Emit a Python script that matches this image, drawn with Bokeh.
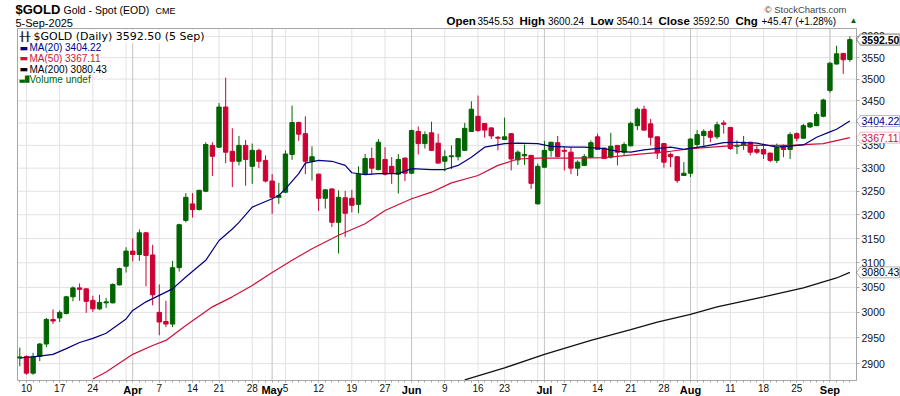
import math
from bokeh.plotting import figure
from bokeh.models import (Range1d, FixedTicker, NumeralTickFormatter, Label, LabelSet,
                          ColumnDataSource, PolyAnnotation)
from bokeh.core.properties import value
from bokeh.embed import file_html
from bokeh.resources import INLINE

# ---------------- data ----------------
opens = [2911, 2914, 2882, 2914, 2938, 2986, 2989, 2998, 3031, 3049,
         3047, 3024, 3007, 3019, 3019, 3055, 3093, 3124, 3117, 3162,
         3116, 3000, 2982, 2977, 3090, 3188, 3223, 3211, 3250, 3350,
         3346, 3436, 3337, 3315, 3350, 3304, 3339, 3317, 3272, 3237,
         3248, 3330, 3401, 3376, 3315, 3287, 3235, 3255, 3184, 3236,
         3235, 3222, 3287, 3321, 3297, 3319, 3304, 3287, 3322, 3289,
         3381, 3354, 3378, 3355, 3315, 3325, 3325, 3339, 3381, 3415,
         3399, 3389, 3368, 3363, 3376, 3318, 3327, 3328, 3223, 3302,
         3339, 3356, 3339, 3335, 3300, 3306, 3324, 3369, 3344, 3324,
         3350, 3335, 3349, 3394, 3431, 3398, 3369, 3354, 3330, 3325,
         3284, 3289, 3352, 3372, 3381, 3369, 3400, 3390, 3348, 3350,
         3357, 3341, 3341, 3333, 3317, 3350, 3341, 3376, 3366, 3391,
         3394, 3415, 3474, 3535, 3560, 3545.53]
highs = [2931, 2916, 2921, 2940, 2989, 3006, 3004, 3033, 3052, 3058,
         3048, 3033, 3035, 3029, 3058, 3090, 3132, 3150, 3169, 3164,
         3137, 3056, 3023, 3104, 3181, 3246, 3246, 3253, 3357, 3357,
         3445, 3503, 3388, 3371, 3362, 3354, 3343, 3328, 3287, 3268,
         3339, 3439, 3403, 3415, 3348, 3288, 3254, 3256, 3252, 3251,
         3253, 3304, 3331, 3345, 3364, 3346, 3324, 3331, 3323, 3385,
         3392, 3381, 3403, 3376, 3339, 3350, 3366, 3400, 3449, 3462,
         3400, 3390, 3371, 3412, 3377, 3339, 3352, 3329, 3310, 3360,
         3358, 3371, 3346, 3346, 3317, 3331, 3361, 3376, 3345, 3378,
         3351, 3357, 3403, 3435, 3439, 3409, 3370, 3355, 3334, 3326,
         3313, 3366, 3384, 3386, 3385, 3403, 3406, 3391, 3361, 3371,
         3358, 3350, 3354, 3334, 3354, 3352, 3379, 3379, 3398, 3401,
         3425, 3455, 3539, 3578, 3561, 3600.24]
lows = [2895, 2879, 2879, 2905, 2932, 2977, 2981, 2996, 3022, 3023,
        2999, 3001, 3005, 3009, 3018, 3054, 3080, 3103, 3104, 3052,
        3014, 2955, 2971, 2971, 3082, 3184, 3194, 3209, 3248, 3283,
        3344, 3311, 3259, 3306, 3262, 3266, 3300, 3269, 3202, 3223,
        3246, 3318, 3360, 3287, 3273, 3208, 3213, 3174, 3119, 3153,
        3205, 3203, 3285, 3286, 3295, 3284, 3266, 3245, 3272, 3287,
        3330, 3343, 3338, 3310, 3293, 3298, 3317, 3338, 3380, 3380,
        3367, 3364, 3339, 3362, 3295, 3307, 3307, 3255, 3222, 3301,
        3325, 3324, 3295, 3287, 3283, 3305, 3322, 3340, 3320, 3321,
        3306, 3328, 3348, 3384, 3383, 3350, 3320, 3301, 3302, 3268,
        3283, 3281, 3345, 3345, 3357, 3364, 3376, 3340, 3331, 3340,
        3328, 3331, 3320, 3313, 3311, 3324, 3320, 3359, 3364, 3389,
        3393, 3413, 3469, 3534, 3512, 3540.14]
closes = [2913, 2882, 2914, 2938, 2986, 2983, 3000, 3031, 3049, 3046,
          3022, 3007, 3020, 3021, 3056, 3088, 3124, 3117, 3162, 3115,
          3035, 2981, 2977, 3090, 3179, 3237, 3211, 3252, 3352, 3326,
          3436, 3335, 3315, 3350, 3319, 3339, 3315, 3272, 3237, 3241,
          3331, 3401, 3375, 3315, 3325, 3235, 3253, 3184, 3237, 3203,
          3220, 3287, 3321, 3300, 3357, 3287, 3289, 3319, 3289, 3383,
          3354, 3374, 3339, 3311, 3325, 3327, 3365, 3388, 3431, 3383,
          3384, 3371, 3366, 3369, 3320, 3335, 3330, 3267, 3304, 3339,
          3357, 3325, 3337, 3300, 3313, 3325, 3356, 3341, 3321, 3348,
          3335, 3352, 3399, 3431, 3384, 3368, 3333, 3313, 3325, 3273,
          3289, 3364, 3374, 3381, 3368, 3396, 3397, 3343, 3350, 3357,
          3335, 3335, 3331, 3317, 3345, 3341, 3374, 3366, 3394, 3400,
          3419, 3452, 3537, 3559, 3545, 3592.50]

# moving averages (trading-day index, value)
ma20_idx = [0, 2, 5, 7, 9, 11, 13, 16, 17, 19, 21, 23, 25, 28, 30, 32, 33, 35, 38, 39,
            40, 42, 43, 45, 47, 49, 50, 52, 54, 57, 59, 62, 64, 66, 68, 70, 73, 75, 78,
            80, 83, 85, 88, 90, 92, 94, 98, 100, 103, 106, 108, 111, 114, 118, 120, 122, 123, 125]
ma20_val = [2911, 2913, 2918, 2929, 2941, 2949, 2959, 2987, 3004, 3021, 3034, 3047, 3071,
            3105, 3146, 3170, 3184, 3216, 3234, 3241, 3255, 3288, 3311, 3317, 3315, 3306,
            3290, 3286, 3288, 3288, 3299, 3297, 3297, 3306, 3324, 3346, 3354, 3355, 3354,
            3348, 3346, 3346, 3343, 3337, 3335, 3340, 3346, 3341, 3348, 3356, 3357, 3355,
            3346, 3351, 3368, 3380, 3386, 3404.22]
ma50_idx = [11, 13, 17, 20, 22, 25, 29, 32, 35, 38, 41, 44, 48, 52, 55, 59, 62, 65, 69,
            72, 75, 78, 83, 88, 93, 98, 101, 108, 116, 121, 125]
ma50_val = [2871, 2884, 2918, 2935, 2945, 2974, 3011, 3031, 3054, 3080, 3105, 3129, 3157,
            3181, 3209, 3234, 3248, 3268, 3284, 3306, 3320, 3322, 3322, 3323, 3330, 3337,
            3343, 3350, 3350, 3354, 3367.11]
ma200_idx = [67, 73, 79, 86, 92, 96, 101, 105, 112, 118, 123, 125]
ma200_val = [2869, 2892, 2918, 2945, 2966, 2981, 2996, 3011, 3031, 3049, 3069, 3080.43]

day_tick_idx = [1, 6, 11, 21, 26, 30, 35, 40, 45, 50, 55, 64, 69, 73, 82, 87, 92, 97, 107, 112, 117]
day_tick_labels = ["10", "17", "24", "7", "14", "21", "28", "5", "12", "19", "27", "9",
                   "16", "23", "7", "14", "21", "28", "11", "18", "25"]
month_idx = [17, 38, 59, 79, 101, 122]
month_labels = ["Apr", "May", "Jun", "Jul", "Aug", "Sep"]
week_idx = [1, 6, 11, 16, 21, 26, 30, 35, 40, 45, 50, 55, 59, 64, 69, 73, 78, 82, 87, 92,
            97, 102, 107, 112, 117, 122]
price_ticks = [2900, 2950, 3000, 3050, 3100, 3150, 3200, 3250, 3300, 3350, 3400, 3450,
               3500, 3550, 3600]

# ---------------- geometry / styling ----------------
UP, DOWN = "#006400", "#cc0033"
NAVY, CRIMSON = "#000080", "#d0103a"
GRID, MGRID, FRAME = "#e2e2e2", "#c4c4c4", "#a6a6a6"
FONT = "Liberation Sans"
W, H = 900, 396
PL, PR, PT, PB = 17, 856, 28, 380          # plot-area box (px)
X0, X1 = -0.35, 126.0                        # plot-area data range
Y0, Y1 = 2868, 3619
dx = (X1 - X0) / (PR - PL)
k = math.log(Y1 / Y0) / (PB - PT)
x_rng = Range1d(X0 - PL * dx, X1 + (W - PR) * dx)
y_rng = Range1d(Y0 * math.exp(-(H - PB) * k), Y1 * math.exp(PT * k))

p = figure(width=W, height=H, x_range=x_rng, y_range=y_rng, y_axis_type="log",
           y_axis_location="right", output_backend="svg", toolbar_location=None,
           min_border=0, min_border_left=0, min_border_right=0, min_border_top=0,
           min_border_bottom=0, title=None)
p.outline_line_color = None
p.background_fill_color = "white"
p.border_fill_color = "white"
p.xgrid.visible = False
p.ygrid.visible = False

# grid lines limited to the plot area
n = len(price_ticks)
p.segment(x0=[X0] * n, y0=price_ticks, x1=[X1] * n, y1=price_ticks, line_color=GRID, line_width=1)
p.segment(x0=week_idx, y0=[Y0] * len(week_idx), x1=week_idx, y1=[Y1] * len(week_idx),
          line_color=GRID, line_width=1)
p.segment(x0=month_idx, y0=[Y0] * len(month_idx), x1=month_idx, y1=[Y1] * len(month_idx),
          line_color=MGRID, line_width=1)
p.quad(left=[X0], right=[X1], bottom=[Y0], top=[Y1], fill_color=None,
       line_color=FRAME, line_width=1)

# x axis (at bottom of plot area)
xa = p.xaxis[0]
xa.fixed_location = Y0
xa.bounds = (X0, X1)
xa.ticker = FixedTicker(ticks=day_tick_idx, minor_ticks=list(range(len(closes))))
xa.major_label_overrides = {i: s for i, s in zip(day_tick_idx, day_tick_labels)}
xa.major_label_text_font = FONT
xa.major_label_text_font_size = "10px"
xa.major_label_text_color = "#111111"
xa.axis_line_color = FRAME
xa.major_tick_line_color = FRAME
xa.minor_tick_line_color = FRAME
xa.major_tick_in = 0
xa.major_tick_out = 2
xa.minor_tick_in = 0
xa.minor_tick_out = 2
xa.major_label_standoff = 1

# y axis (right edge of plot area)
ya = p.yaxis[0]
ya.fixed_location = X1
ya.bounds = (Y0, Y1)
ya.ticker = FixedTicker(ticks=price_ticks)
ya.formatter = NumeralTickFormatter(format="0")
ya.major_label_text_font = FONT
ya.major_label_text_font_size = "10.5px"
ya.major_label_text_color = "#111111"
ya.axis_line_color = FRAME
ya.major_tick_line_color = FRAME
ya.minor_tick_line_color = None
ya.major_tick_in = 0
ya.major_tick_out = 3
ya.major_label_standoff = 2

# candles
idx = list(range(len(closes)))
colors = [UP if c >= o else DOWN for o, c in zip(opens, closes)]
src = ColumnDataSource(dict(x=idx, o=opens, h=highs, l=lows, c=closes,
                            top=[max(o, c) for o, c in zip(opens, closes)],
                            bot=[min(o, c) for o, c in zip(opens, closes)],
                            color=colors))
p.segment(x0="x", y0="l", x1="x", y1="h", line_color="color", line_width=1, source=src)
p.vbar(x="x", width=0.66, top="top", bottom="bot", fill_color="color",
       line_color="color", line_width=1, source=src)

# moving averages
p.line(ma200_idx, ma200_val, line_color="#111111", line_width=1.3)
p.line(ma50_idx, ma50_val, line_color=CRIMSON, line_width=1.2)
p.line(ma20_idx, ma20_val, line_color=NAVY, line_width=1.2)

# bold month labels under the axis
msrc = ColumnDataSource(dict(x=month_idx, text=month_labels))
p.add_layout(LabelSet(x="x", y=PB + 3, x_units="data", y_units="canvas", text="text",
                      source=msrc, text_font=value(FONT), text_font_size=value("11px"),
                      text_font_style="bold", text_color="#000000",
                      text_align="center", text_baseline="top"))

# ---------------- header ----------------
def lab(x, y, text, size, style="normal", color="#000000", align="left", font=FONT, **kw):
    p.add_layout(Label(x=x, y=y, x_units="canvas", y_units="canvas", text=text,
                       text_font=font, text_font_size=size, text_font_style=style,
                       text_color=color, text_align=align, text_baseline="middle", **kw))

lab(15, 9, "$GOLD", "13px", "bold")
lab(63, 9.5, "Gold - Spot (EOD)", "10.5px")
lab(155, 10, "CME", "9px")
lab(15, 22.5, "5-Sep-2025", "11px")
lab(846, 8.5, "\u00a9 StockCharts.com", "9.5px", color="#444444", align="right")

hdr = [("Open", "bold"), ("3545.53", "normal"), ("High", "bold"), ("3600.24", "normal"),
       ("Low", "bold"), ("3540.14", "normal"), ("Close", "bold"), ("3592.50", "normal"),
       ("Chg", "bold"), ("+45.47 (+1.28%)", "normal")]
hdr_x = [446, 477, 519, 547.5, 590, 616, 658, 692.5, 735, 761]
for (t, st), hx in zip(hdr, hdr_x):
    lab(hx, 20.5, t, "11.5px" if st == "bold" else "10px", st)
lab(849, 20, "\u25b2", "8px", color=UP)

# ---------------- legend (inside the plot area) ----------------
ly = [36, 47, 57.8, 68.5, 78.5]
lab(19, ly[0], "\u2542\u2542", "9px", color="#222222", font="DejaVu Sans",
    background_fill_color="white")
lab(33, ly[0], "$GOLD (Daily) 3592.50 (5 Sep)", "11px", font="DejaVu Sans",
    background_fill_color="white")
leg = [("MA(20) 3404.22", NAVY), ("MA(50) 3367.11", CRIMSON), ("MA(200) 3080.43", "#000000"),
       ("Volume undef", UP)]
for j, (t, col) in enumerate(leg):
    icon = "\u25ac" if j < 3 else "\u2583\u2587\u2585"
    lab(19, ly[j + 1], icon, "9px" if j < 3 else "7px", color=col, font="DejaVu Sans",
        background_fill_color="white")
    lab(29, ly[j + 1], t, "10px", color=col, background_fill_color="white")

# ---------------- value tags on the right axis ----------------
half = 5.5 * k
tags = [(ma200_val[-1], "#000000", "normal"), (ma50_val[-1], CRIMSON, "normal"),
        (ma20_val[-1], NAVY, "normal"), (closes[-1], "#000000", "bold")]
for val, col, st in tags:
    up_, dn_ = val * math.exp(half), val * math.exp(-half)
    p.add_layout(PolyAnnotation(xs=[PR, PR + 4, W - 1, W - 1, PR + 4],
                                ys=[val, up_, up_, dn_, dn_],
                                xs_units="canvas", ys_units="data",
                                fill_color="white", fill_alpha=1.0,
                                line_color=col, line_width=1.6 if st == "bold" else 1))
    p.add_layout(Label(x=PR + 5, y=val, x_units="canvas", y_units="data",
                       text=f"{val:.2f}", text_font=FONT, text_font_size="10.5px",
                       text_font_style=st, text_color=col, text_align="left",
                       text_baseline="middle"))

open("out.html", "w").write(file_html(p, INLINE))
